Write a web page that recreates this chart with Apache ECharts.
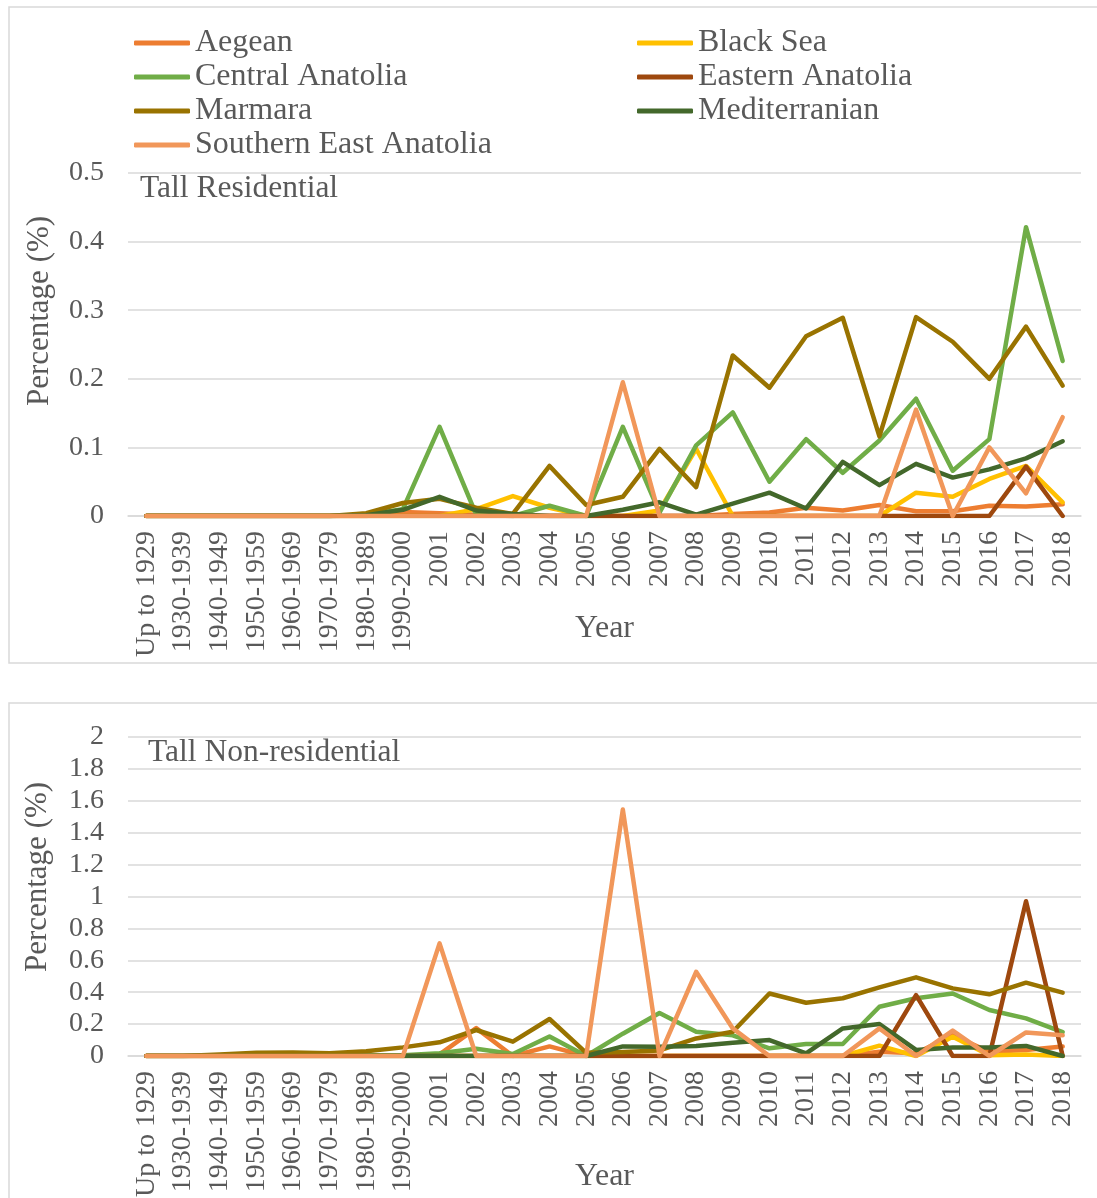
<!DOCTYPE html>
<html>
<head>
<meta charset="utf-8">
<script src="https://cdn.jsdelivr.net/npm/echarts@6/dist/echarts.min.js"></script>
<style>
  html, body { margin: 0; padding: 0; background: #fff; }
  #chart { width: 1097px; height: 1198px; }
</style>
</head>
<body>
<div id="chart"></div>
<script>
// categories (x axis)
const years = [
  'Up to 1929', '1930-1939', '1940-1949', '1950-1959', '1960-1969', '1970-1979',
  '1980-1989', '1990-2000', '2001', '2002', '2003', '2004', '2005', '2006',
  '2007', '2008', '2009', '2010', '2011', '2012', '2013', '2014', '2015',
  '2016', '2017', '2018'
]

const regionNames = [
  'Aegean', 'Black Sea', 'Central Anatolia', 'Eastern Anatolia',
  'Marmara', 'Mediterranian', 'Southern East Anatolia'
]
const regionColors = ['#ED7D31', '#FFC000', '#70AD47', '#9E480E', '#997300', '#43682B', '#F1975A']

// Tall Residential (%)
const resAegean = [0, 0, 0, 0, 0, 0, 0, 0.006, 0.004, 0.002, 0, 0, 0, 0, 0, 0, 0.003, 0.005, 0.012, 0.008, 0.016, 0.007, 0.007, 0.015, 0.014, 0.017]
const resBlackSea = [0, 0, 0, 0, 0, 0, 0, 0, 0, 0.01, 0.029, 0.012, 0, 0, 0.008, 0.098, 0, 0, 0, 0, 0, 0.034, 0.028, 0.054, 0.073, 0.02]
const resCentral = [0, 0, 0, 0, 0, 0, 0.002, 0.01, 0.13, 0.002, 0, 0.015, 0, 0.13, 0.005, 0.103, 0.151, 0.05, 0.112, 0.063, 0.11, 0.171, 0.066, 0.112, 0.421, 0.226]
const resEastern = [0, 0, 0, 0, 0, 0, 0, 0, 0, 0, 0, 0, 0, 0, 0, 0, 0, 0, 0, 0, 0, 0, 0, 0, 0.072, 0]
const resMarmara = [0, 0, 0, 0, 0, 0, 0.004, 0.019, 0.025, 0.012, 0.003, 0.073, 0.016, 0.028, 0.098, 0.042, 0.234, 0.187, 0.262, 0.289, 0.116, 0.29, 0.254, 0.2, 0.276, 0.19]
const resMediterranian = [0, 0, 0, 0, 0, 0, 0.001, 0.009, 0.028, 0.008, 0.003, 0, 0, 0.009, 0.02, 0.002, 0.018, 0.034, 0.011, 0.079, 0.045, 0.076, 0.056, 0.068, 0.084, 0.109]
const resSouthernEast = [0, 0, 0, 0, 0, 0, 0, 0, 0, 0, 0, 0, 0, 0.195, 0, 0, 0, 0, 0, 0, 0, 0.155, 0, 0.1, 0.033, 0.144]

// Tall Non-residential (%)
const nonAegean = [0, 0, 0, 0, 0, 0, 0, 0, 0.01, 0.175, 0, 0.06, 0, 0, 0, 0, 0, 0, 0, 0, 0.027, 0.017, 0.13, 0.027, 0.038, 0.06]
const nonBlackSea = [0, 0, 0, 0, 0, 0, 0, 0, 0, 0, 0, 0, 0, 0, 0, 0, 0, 0, 0, 0, 0.065, 0, 0.12, 0.005, 0.01, 0]
const nonCentral = [0, 0, 0.005, 0.01, 0.01, 0.005, 0.005, 0.005, 0.017, 0.045, 0.013, 0.122, 0, 0.14, 0.27, 0.152, 0.13, 0.048, 0.075, 0.075, 0.309, 0.362, 0.392, 0.288, 0.236, 0.15]
const nonEastern = [0, 0, 0, 0, 0, 0, 0, 0, 0, 0, 0, 0, 0, 0, 0, 0, 0, 0, 0, 0, 0, 0.382, 0, 0, 0.97, 0]
const nonMarmara = [0, 0, 0.01, 0.02, 0.022, 0.017, 0.03, 0.054, 0.086, 0.163, 0.09, 0.232, 0.02, 0.025, 0.035, 0.11, 0.152, 0.392, 0.334, 0.362, 0.43, 0.493, 0.424, 0.387, 0.46, 0.397]
const nonMediterranian = [0, 0, 0, 0, 0, 0, 0, 0, 0, 0, 0, 0, 0, 0.06, 0.058, 0.063, 0.083, 0.1, 0.017, 0.173, 0.2, 0.038, 0.054, 0.054, 0.063, 0]
const nonSouthernEast = [0, 0, 0, 0, 0, 0, 0, 0, 0.706, 0, 0, 0, 0, 1.545, 0, 0.528, 0.173, 0, 0, 0, 0.173, 0, 0.159, 0, 0.148, 0.13]

const residential = [resAegean, resBlackSea, resCentral, resEastern, resMarmara, resMediterranian, resSouthernEast]
const nonResidential = [nonAegean, nonBlackSea, nonCentral, nonEastern, nonMarmara, nonMediterranian, nonSouthernEast]

const FONT = '"Liberation Serif", "Times New Roman", serif'
const TXT = '#595959'
const GRIDLINE = '#d9d9d9'

const makeX = (gridIndex, gap) => ({
  type: 'category',
  gridIndex: gridIndex,
  data: years,
  boundaryGap: true,
  axisLine: { show: true, lineStyle: { color: GRIDLINE, width: 1.5 } },
  axisTick: { show: false },
  axisLabel: { rotate: 90, interval: 0, margin: 15, fontSize: 28, fontFamily: FONT, color: TXT },
  name: 'Year',
  nameLocation: 'middle',
  nameGap: gap,
  nameMoveOverlap: false,
  nameTextStyle: { fontSize: 32, fontFamily: FONT, color: TXT }
})

const makeY = (gridIndex, max, interval) => ({
  type: 'value',
  gridIndex: gridIndex,
  min: 0,
  max: max,
  interval: interval,
  axisLine: { show: false },
  axisTick: { show: false },
  splitLine: { lineStyle: { color: GRIDLINE, width: 1.5 } },
  axisLabel: { margin: 24, fontSize: 28, fontFamily: FONT, color: TXT }
})

const series = []
const addSeries = (list, axisIndex) => {
  list.forEach((data, i) => {
    series.push({
      name: regionNames[i],
      type: 'line',
      xAxisIndex: axisIndex,
      yAxisIndex: axisIndex,
      data: data,
      symbol: 'none',
      color: regionColors[i],
      lineStyle: { width: 4.5, color: regionColors[i], join: 'round', cap: 'round' },
      emphasis: { disabled: true }
    })
  })
}
addSeries(residential, 0)
addSeries(nonResidential, 1)

const legendBase = {
  orient: 'vertical',
  icon: 'roundRect',
  itemWidth: 56,
  itemHeight: 5,
  itemGap: 0,
  top: 21,
  textStyle: { fontSize: 32, fontFamily: FONT, color: TXT, lineHeight: 34 }
}

const chart = echarts.init(document.getElementById('chart'), null, { renderer: 'canvas' })
chart.setOption({
  backgroundColor: '#fff',
  animation: false,
  color: regionColors,
  legend: [
    Object.assign({}, legendBase, { left: 129, data: ['Aegean', 'Central Anatolia', 'Marmara', 'Southern East Anatolia'] }),
    Object.assign({}, legendBase, { left: 632, data: ['Black Sea', 'Eastern Anatolia', 'Mediterranian'] })
  ],
  grid: [
    { left: 128, right: 16, top: 173, height: 343, containLabel: false, outerBoundsMode: 'none' },
    { left: 128, right: 16, top: 737, height: 319, containLabel: false, outerBoundsMode: 'none' }
  ],
  xAxis: [makeX(0, 97), makeX(1, 105)],
  yAxis: [makeY(0, 0.5, 0.1), makeY(1, 2, 0.2)],
  graphic: [
    { type: 'rect', z: -10, shape: { x: 9, y: 7, width: 1100, height: 656 }, style: { fill: 'none', stroke: GRIDLINE, lineWidth: 1.5 } },
    { type: 'rect', z: -10, shape: { x: 9, y: 703, width: 1100, height: 600 }, style: { fill: 'none', stroke: GRIDLINE, lineWidth: 1.5 } },
    { type: 'text', left: 140, top: 173, style: { text: 'Tall Residential', font: '31.5px ' + FONT, fill: TXT } },
    { type: 'text', left: 148, top: 737, style: { text: 'Tall Non-residential', font: '31.5px ' + FONT, fill: TXT } },
    { type: 'text', x: 40, y: 311, rotation: Math.PI / 2, style: { text: 'Percentage (%)', font: '31px ' + FONT, fill: TXT, align: 'center', verticalAlign: 'middle' } },
    { type: 'text', x: 38, y: 877, rotation: Math.PI / 2, style: { text: 'Percentage (%)', font: '31px ' + FONT, fill: TXT, align: 'center', verticalAlign: 'middle' } }
  ],
  series: series
})
</script>
</body>
</html>
